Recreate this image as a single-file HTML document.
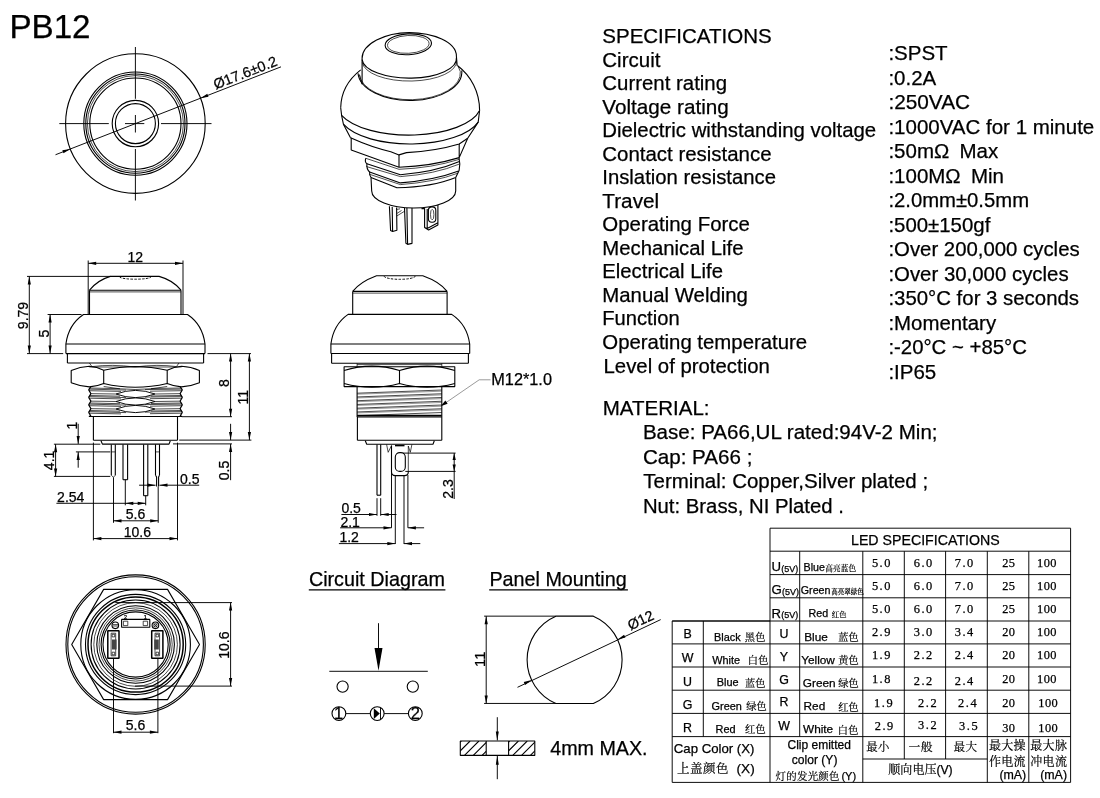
<!DOCTYPE html>
<html><head><meta charset="utf-8"><title>PB12</title><style>html,body{margin:0;padding:0;background:#fff}
svg{display:block}
text{font-family:"Liberation Sans",sans-serif;fill:#000;stroke:#000;stroke-width:.25px}
svg{will-change:transform}
path,circle,ellipse,rect{stroke-linejoin:bevel}
.o{fill:none;stroke:#000;stroke-width:1.1}
.t{fill:none;stroke:#000;stroke-width:.7}
.u{fill:none;stroke:#000;stroke-width:.4}
.k{fill:none;stroke:#000;stroke-width:1.5}
.d{fill:none;stroke:#000;stroke-width:.95}
.g{fill:none;stroke:#555;stroke-width:.6}
.h{fill:none;stroke:#000;stroke-width:1.1}
.b{fill:none;stroke:#000;stroke-width:.95}
.a{fill:#000;stroke:none}
.c{font-family:"Liberation Sans","Noto Serif CJK SC",serif;stroke-width:.18px}
.s{font-family:"Liberation Serif",serif}</style></head>
<body><svg width="1100" height="798" viewBox="0 0 1100 798">
<rect width="1100" height="798" fill="#fff"/>
<text x="9.4" y="38" font-size="33.2">PB12</text>
<circle class="o" cx="135.4" cy="123.6" r="69.8"/>
<circle class="o" cx="135.4" cy="123.6" r="51.6"/>
<circle class="o" cx="135.4" cy="123.6" r="49.6"/>
<circle class="t" cx="135.4" cy="123.6" r="48"/>
<circle class="o" cx="135.4" cy="123.6" r="45.6"/>
<circle class="o" cx="135.4" cy="123.6" r="23.2"/>
<circle class="o" cx="135.4" cy="123.6" r="20"/>
<path class="d" d="M59.3,123.6L108.8,123.6"/>
<path class="d" d="M125,123.6L144.3,123.6"/>
<path class="d" d="M161,123.6L211.5,123.6"/>
<path class="d" d="M135.4,47L135.4,98.8"/>
<path class="d" d="M135.4,115L135.4,132.5"/>
<path class="d" d="M135.4,149L135.4,200.5"/>
<path class="d" d="M55.5,154.75L281,66.83"/>
<path class="a" d="M200.43,98.25L207.3,93.85L208.47,96.83Z"/>
<path class="a" d="M70.37,148.95L63.5,153.35L62.33,150.37Z"/>
<text x="215.7" y="89.56" font-size="14.4" transform="rotate(-21.3 215.7 89.56)">Ø17.6±0.2</text>
<path class="d" d="M88.2,263.3L183,263.3"/>
<path class="a" d="M88.2,263.3L96.2,261.7L96.2,264.9Z"/>
<path class="a" d="M183,263.3L175,264.9L175,261.7Z"/>
<path class="d" d="M88.2,260.5L88.2,314"/>
<path class="d" d="M183,260.5L183,314"/>
<text x="135.3" y="262" font-size="14" text-anchor="middle">12</text>
<path class="o" d="M89.5,290.2Q97.5,280.2 110.3,276.4L159.1,276.4Q173,280.2 181,290.2"/>
<path class="o" d="M89.5,290.2L181,290.2"/>
<path class="t" d="M89.5,291.9L181,291.9"/>
<path class="o" d="M89.5,290.2L89.5,314.5"/>
<path class="o" d="M181,290.2L181,314.5"/>
<path class="d" d="M119.6,276.8A15.7,2.4 0 0 0 151,276.8" stroke-dasharray="2.4 1.4"/>
<path class="o" d="M65.9,344Q68.5,324.5 83.5,314.5L187.5,314.5Q202.5,324.5 205,344"/>
<path class="o" d="M65.9,344L205,344"/>
<path class="o" d="M65.9,344L65.9,353.6"/>
<path class="o" d="M205,344L205,353.6"/>
<path class="o" d="M65.9,353.6L205,353.6"/>
<path class="o" d="M67.4,353.6L67.4,363"/>
<path class="o" d="M203.6,353.6L203.6,363"/>
<path class="o" d="M67.4,363L203.6,363"/>
<path class="t" d="M89.4,363L92,366.6M178.9,363L176.5,366.6"/>
<path class="t" d="M92,366.6Q112,364 135,367Q158,364 176.5,366.6"/>
<path class="o" d="M71.2,370.5Q80,366.8 89.4,366.3Q97,366.8 103.7,370.3Q135,362.6 167.2,370.3Q174,366.8 181.5,366.3Q191,366.8 199.4,370.5L199.4,382.8Q191,386.4 181.5,386.9Q174,386.4 167.2,383.5Q135,391 103.7,383.5Q97,386.4 89.4,386.9Q80,386.4 71.2,382.8Z"/>
<path class="o" d="M103.7,370.3L103.7,383.5"/>
<path class="o" d="M167.2,370.3L167.2,383.5"/>
<path class="t" d="M89.4,367L181.5,367"/>
<path class="o" d="M90.7,386.9L88.7,389.9L90.9,393.6L88.7,397.4L90.9,401.1L88.7,404.9L90.9,408.6L88.7,412.4L90.9,416.1L88.9,416.2"/>
<path class="o" d="M180.2,386.9L182.3,389.9L180.1,393.6L182.3,397.4L180.1,401.1L182.3,404.9L180.1,408.6L182.3,412.4L180.1,416.1L182.1,416.2"/>
<path class="t" d="M88.7,389.1L126,390.1M88.9,390.7L121,391.4M89.6,388L120,388.7"/>
<path class="t" d="M182.3,389.1L145,389.6M182.1,390.7L150,391.2M181.4,388L151,388.5"/>
<path class="t" d="M90.9,393.65L116,394M180.1,393.65L155,394"/>
<path class="t" d="M88.7,396.6L126,397.6M88.9,398.2L121,398.9M89.6,395.5L120,396.2"/>
<path class="t" d="M182.3,396.6L145,397.1M182.1,398.2L150,398.7M181.4,395.5L151,396"/>
<path class="t" d="M90.9,401.15L116,401.5M180.1,401.15L155,401.5"/>
<path class="t" d="M88.7,404.1L126,405.1M88.9,405.7L121,406.4M89.6,403L120,403.7"/>
<path class="t" d="M182.3,404.1L145,404.6M182.1,405.7L150,406.2M181.4,403L151,403.5"/>
<path class="t" d="M90.9,408.65L116,409M180.1,408.65L155,409"/>
<path class="t" d="M88.7,411.6L126,412.6M88.9,413.2L121,413.9M89.6,410.5L120,411.2"/>
<path class="t" d="M182.3,411.6L145,412.1M182.1,413.2L150,413.7M181.4,410.5L151,411"/>
<path class="d" d="M116,394Q135.5,386.8 155,394M116,394Q135.5,401.2 155,394"/>
<path class="d" d="M116,401.5Q135.5,394.3 155,401.5M116,401.5Q135.5,408.7 155,401.5"/>
<path class="d" d="M116,409Q135.5,401.8 155,409M116,409Q135.5,416.2 155,409"/>
<path class="t" d="M103.7,386.5Q135,392.5 167.2,386.5"/>
<path class="o" d="M88.9,416.5L182.1,416.5"/>
<path class="o" d="M93.4,416.5L93.4,440.2"/>
<path class="o" d="M177.5,416.5L177.5,440.2"/>
<path class="o" d="M93.4,440.2L177.5,440.2"/>
<path class="o" d="M101,440.8L102.4,444.1L169,444.1L170.3,440.8"/>
<path class="o" d="M111.3,444.4L111.3,475.2"/>
<path class="o" d="M115.3,444.4L115.3,475.2"/>
<path class="o" d="M123,444.4L123,479.7"/>
<path class="o" d="M127.6,444.4L127.6,479.7"/>
<path class="o" d="M143.6,444.4L143.6,495.7"/>
<path class="o" d="M147.8,444.4L147.8,495.7"/>
<path class="o" d="M155.5,444.4L155.5,475.2"/>
<path class="o" d="M159.5,444.4L159.5,475.2"/>
<path class="t" d="M111.3,475.2L113.4,477.3L115.3,475.2"/>
<path class="o" d="M123,479.7L127.6,479.7"/>
<path class="o" d="M143.6,495.7L147.8,495.7"/>
<path class="t" d="M111.3,451.9L115.3,451.9"/>
<path class="t" d="M155.5,451.9L159.5,451.9"/>
<path class="o" d="M155.5,475.2L156.6,477L156.6,486.5M159.5,475.2L158.6,477L158.6,486.5"/>
<path class="d" d="M29.3,276.4L29.3,353.6"/>
<path class="a" d="M29.3,276.4L30.9,284.4L27.7,284.4Z"/>
<path class="a" d="M29.3,353.6L27.7,345.6L30.9,345.6Z"/>
<path class="d" d="M27,276.4L110.3,276.4"/>
<path class="d" d="M27,353.6L63.2,353.6"/>
<text x="28.2" y="315.5" font-size="14" text-anchor="middle" transform="rotate(-90 28.2 315.5)">9.79</text>
<path class="d" d="M50.1,314.5L50.1,353.6"/>
<path class="a" d="M50.1,314.5L51.7,322.5L48.5,322.5Z"/>
<path class="a" d="M50.1,353.6L48.5,345.6L51.7,345.6Z"/>
<path class="d" d="M47.6,314.5L81.5,314.5"/>
<text x="48.8" y="333.5" font-size="14" text-anchor="middle" transform="rotate(-90 48.8 333.5)">5</text>
<path class="d" d="M207.5,353.6L251,353.6"/>
<path class="d" d="M181.7,416.7L232,416.7"/>
<path class="d" d="M179.2,440.1L251.4,440.1"/>
<path class="d" d="M173,443.9L232,443.9"/>
<path class="d" d="M230.6,353.6L230.6,416.7"/>
<path class="a" d="M230.6,353.6L232.2,361.6L229,361.6Z"/>
<path class="a" d="M230.6,416.7L229,408.7L232.2,408.7Z"/>
<text x="229.3" y="383.2" font-size="14" text-anchor="middle" transform="rotate(-90 229.3 383.2)">8</text>
<path class="d" d="M249.4,353.6L249.4,440.1"/>
<path class="a" d="M249.4,353.6L251,361.6L247.8,361.6Z"/>
<path class="a" d="M249.4,440.1L247.8,432.1L251,432.1Z"/>
<text x="248" y="397.3" font-size="14" text-anchor="middle" transform="rotate(-90 248 397.3)">11</text>
<path class="d" d="M230.6,423.8L230.6,440.1"/>
<path class="a" d="M230.6,440.1L229,432.1L232.2,432.1Z"/>
<path class="d" d="M230.6,443.9L230.6,480.2"/>
<path class="a" d="M230.6,443.9L232.2,451.9L229,451.9Z"/>
<text x="229.3" y="470.5" font-size="14" text-anchor="middle" transform="rotate(-90 229.3 470.5)">0.5</text>
<path class="d" d="M78.2,423.8L78.2,443.9"/>
<path class="a" d="M78.2,443.9L76.6,435.9L79.8,435.9Z"/>
<text x="76.6" y="425.6" font-size="14" text-anchor="middle" transform="rotate(-90 76.6 425.6)">1</text>
<path class="d" d="M78.2,451.9L78.2,467.7"/>
<path class="a" d="M78.2,451.9L79.8,459.9L76.6,459.9Z"/>
<path class="d" d="M75.9,451.9L110.3,451.9"/>
<path class="d" d="M53.9,444.2L100.3,444.2"/>
<path class="d" d="M53.9,476.4L110.3,476.4"/>
<path class="d" d="M55.6,444.2L55.6,476.4"/>
<path class="a" d="M55.6,444.2L57.2,452.2L54,452.2Z"/>
<path class="a" d="M55.6,476.4L54,468.4L57.2,468.4Z"/>
<text x="54.4" y="460.4" font-size="14" text-anchor="middle" transform="rotate(-90 54.4 460.4)">4.1</text>
<path class="d" d="M93.4,442.6L93.4,540.4"/>
<path class="d" d="M177.5,442.6L177.5,540.4"/>
<path class="d" d="M113.5,477.3L113.5,522.8"/>
<path class="d" d="M158.2,486.5L158.2,522.8"/>
<path class="d" d="M125.3,479.7L125.3,505.3"/>
<path class="d" d="M145.7,495.7L145.7,505.3"/>
<path class="d" d="M93.4,538.6L177.5,538.6"/>
<path class="a" d="M93.4,538.6L101.4,537L101.4,540.2Z"/>
<path class="a" d="M177.5,538.6L169.5,540.2L169.5,537Z"/>
<text x="137.3" y="537.3" font-size="14" text-anchor="middle">10.6</text>
<path class="d" d="M113.5,520.8L158.2,520.8"/>
<path class="a" d="M113.5,520.8L121.5,519.2L121.5,522.4Z"/>
<path class="a" d="M158.2,520.8L150.2,522.4L150.2,519.2Z"/>
<text x="135.5" y="519" font-size="14" text-anchor="middle">5.6</text>
<path class="d" d="M56.4,503.3L145.7,503.3"/>
<path class="a" d="M125.3,503.3L133.3,501.7L133.3,504.9Z"/>
<path class="a" d="M145.7,503.3L137.7,504.9L137.7,501.7Z"/>
<text x="57.1" y="502.3" font-size="14">2.54</text>
<path class="d" d="M139.1,485.2L155.5,485.2"/>
<path class="a" d="M155.5,485.2L147.5,486.8L147.5,483.6Z"/>
<path class="d" d="M159.5,485.2L199.2,485.2"/>
<path class="a" d="M159.5,485.2L167.5,483.6L167.5,486.8Z"/>
<text x="180" y="484" font-size="14">0.5</text>
<ellipse class="o" cx="408.3" cy="44.3" rx="23.2" ry="10.4" transform="rotate(-3 408.3 44.3)"/>
<ellipse class="t" cx="408.3" cy="44.4" rx="20.8" ry="8.9" transform="rotate(-3 408.3 44.4)"/>
<path class="o" d="M362.1,84.2L362.1,58.3C362.1,44 385,32.6 409.2,32.6C433,32.6 456.4,42 456.4,56.2L457.2,66"/>
<path class="o" d="M362.1,59.6A47.2,19.5 0 0 0 456.4,57.6"/>
<path class="t" d="M362.3,62.3A47.2,19.8 0 0 0 456.6,60.2"/>
<path class="o" d="M358,73.3A51.9,28.6 0 0 0 461.8,70.5"/>
<path class="t" d="M359.4,74.6L362.1,84.2M359.4,74.6A50.4,26.6 0 0 0 460.3,71.5L458.2,66.5"/>
<path class="o" d="M340.7,107.8C341,92 349,79 360.7,69.9M479.6,110.5C479.6,92 471,76 457.7,65.8"/>
<path class="o" d="M340.7,107.8L341.6,115.3L343.4,124.2L350.5,137.8M479.6,110.5L478.2,122.1L467.7,138.3"/>
<path class="o" d="M341.6,115.3A72.24,31.06 0 0 0 479.6,110.5"/>
<path class="o" d="M343.4,124.2A71.15,30.6 0 0 0 478.2,122.1"/>
<path class="o" d="M350.5,137.8Q372,147.5 390.8,151.7L399,154.9L406.5,152.6Q436,151 459.2,144L467.7,138.3"/>
<path class="o" d="M351.2,137.8L351.2,150.1L399,167.2L399,154.9M399,167.2Q432,166 459.2,157.6L459.2,144M459.2,157.6L467.7,138.3"/>
<path class="o" d="M365.8,158.3Q364.5,162 366.9,163.8Q366.3,169 369.6,172Q369.3,175.5 371,177.4"/>
<path class="o" d="M459,157.6Q460.6,164 459.1,170.6L455.7,177.4"/>
<path class="o" d="M366.9,163.8L400.4,174.7Q435,172 459.4,161.5"/>
<path class="t" d="M366.3,166.5L400.4,176.6Q435,174.2 459.5,164"/>
<path class="o" d="M369.6,172L400.4,182.9Q435,180 458.6,171"/>
<path class="t" d="M369.3,174.2L400.4,184.6Q435,182 457.8,173.2"/>
<path class="t" d="M365.8,158.3L399,169.3Q432,168 459,159.4"/>
<path class="o" d="M371,177.4L396.9,187.7Q432,187 455.7,177.4"/>
<path class="o" d="M371,177.4L371.7,191A42,17 0 0 0 455.7,191L455.7,177.4"/>
<path class="o" d="M389.4,206.3L390.6,230.6L392.6,231.6L396.9,230.2L396.6,207.6M392.2,207L392.6,231.6"/>
<path class="o" d="M404.5,208L405.9,243.3L407.6,244.4L412,243.4L412,208M406.9,208L407.6,244.4"/>
<path class="t" d="M396.6,209.5L400,208.8M396.8,216L404.6,211.2M396.8,213.5L401.5,210.5"/>
<path class="o" d="M421.5,208.6L424.6,208.6L424.6,227.6L428.6,230L437.9,225L437.9,205M427.2,209L427.2,228.6L437.9,222.8M424.6,227.6L427.2,228.6"/>
<rect class="o" x="428.4" y="206.9" width="7.4" height="15.4" rx="3.5" ry="3.5"/>
<ellipse class="t" cx="432.2" cy="214.6" rx="1.7" ry="5.2"/>
<path class="o" d="M352.7,291.4Q360,282 376.5,275.8L422.8,275.8Q440,282 447.1,291.4"/>
<path class="o" d="M352.7,291.4L447.1,291.4"/>
<path class="t" d="M352.7,293.1L447.1,293.1"/>
<path class="o" d="M352.7,291.4L352.7,314.4"/>
<path class="o" d="M447.1,291.4L447.1,314.4"/>
<path class="d" d="M384,276.2A15.7,3.4 0 0 0 415.3,276.2" stroke-dasharray="2.4 1.4"/>
<path class="o" d="M330.9,344Q333.5,324.5 348.1,314.4L451.7,314.4Q467,324.5 469.7,344"/>
<path class="o" d="M330.9,344L469.7,344"/>
<path class="o" d="M330.9,344L330.9,353.5"/>
<path class="o" d="M469.7,344L469.7,353.5"/>
<path class="o" d="M330.9,353.5L469.7,353.5"/>
<path class="o" d="M331.6,353.5L331.6,363.3"/>
<path class="o" d="M468.4,353.5L468.4,363.3"/>
<path class="o" d="M331.6,363.3L468.4,363.3"/>
<path class="t" d="M357.1,363.3L357.1,366.7"/>
<path class="t" d="M441.8,363.3L441.8,366.7"/>
<path class="t" d="M357.1,364.6L441.8,364.6"/>
<path class="o" d="M344.1,366.7L454.8,366.7L454.8,386.6L344.1,386.6Z"/>
<path class="o" d="M344.1,370.5Q372,361.8 399.5,370.5Q427,361.8 454.8,370.5M344.1,383.5Q372,391 399.5,383.5Q427,391 454.8,383.5"/>
<path class="o" d="M399.5,370.5L399.5,383.5"/>
<path class="o" d="M357.1,386.6L357.1,416.9"/>
<path class="o" d="M441.8,386.6L441.8,416.9"/>
<path class="t" d="M357.1,393.2L441.8,390"/>
<path class="u" d="M357.1,394.2L441.8,391.2"/>
<path class="t" d="M357.1,396.95L441.8,393.75"/>
<path class="u" d="M357.1,397.95L441.8,394.95"/>
<path class="t" d="M357.1,400.7L441.8,397.5"/>
<path class="u" d="M357.1,401.7L441.8,398.7"/>
<path class="t" d="M357.1,404.45L441.8,401.25"/>
<path class="u" d="M357.1,405.45L441.8,402.45"/>
<path class="t" d="M357.1,408.2L441.8,405"/>
<path class="u" d="M357.1,409.2L441.8,406.2"/>
<path class="t" d="M357.1,411.95L441.8,408.75"/>
<path class="u" d="M357.1,412.95L441.8,409.95"/>
<path class="t" d="M357.1,415.7L441.8,412.5"/>
<path class="o" d="M357.1,415.4L441.8,415.4"/>
<path class="o" d="M357.1,416.9L441.8,416.9"/>
<path class="o" d="M357.4,416.9L357.4,440.2"/>
<path class="o" d="M441.8,416.9L441.8,440.2"/>
<path class="o" d="M357.4,440.2L441.8,440.2"/>
<path class="o" d="M365.3,440.8L366.7,444.3L433,444.3L434.3,440.8"/>
<path class="o" d="M377,444.4L377,495.2"/>
<path class="o" d="M380.7,444.4L380.7,495.2"/>
<path class="o" d="M377,495.2L380.7,495.2"/>
<path class="t" d="M386.6,444.5L388.2,452.3L391.5,445.5M411.9,444.5L410.3,452.3L408.3,446"/>
<path class="k" d="M395,445.6L404.5,445.6"/>
<path class="o" d="M391.5,445.5L391.5,472Q391.5,475.6 395.3,475.6L404.4,475.6Q408.3,475.6 408.3,472L408.3,471.4"/>
<rect class="o" x="395.3" y="452.6" width="10" height="18.8" rx="4.5" ry="4.5"/>
<path class="t" d="M408.3,446L408.3,472"/>
<path class="d" d="M391.5,472L391.5,527.8"/>
<path class="d" d="M407.9,475L407.9,527.8"/>
<path class="d" d="M395.3,475.6L395.3,544"/>
<path class="d" d="M404,475.6L404,544"/>
<path class="d" d="M403,453.1L455.6,453.1"/>
<path class="d" d="M405.3,471.4L455.6,471.4"/>
<path class="d" d="M454.2,453.1L454.2,499"/>
<path class="a" d="M454.2,453.1L455.8,460.1L452.6,460.1Z"/>
<path class="a" d="M454.2,471.4L452.6,464.4L455.8,464.4Z"/>
<text x="452.9" y="489" font-size="14" text-anchor="middle" transform="rotate(-90 452.9 489)">2.3</text>
<path class="d" d="M377,498.2L377,515.8"/>
<path class="d" d="M380.7,498.2L380.7,515.8"/>
<path class="d" d="M341.4,514.5L377,514.5"/>
<path class="a" d="M377,514.5L369,516.1L369,512.9Z"/>
<path class="d" d="M380.7,514.5L396.5,514.5"/>
<path class="a" d="M380.7,514.5L388.7,512.9L388.7,516.1Z"/>
<text x="341.4" y="512.8" font-size="14">0.5</text>
<path class="d" d="M340.1,527.8L391.5,527.8"/>
<path class="a" d="M391.5,527.8L383.5,529.4L383.5,526.2Z"/>
<path class="d" d="M407.9,527.8L424.1,527.8"/>
<path class="a" d="M407.9,527.8L415.9,526.2L415.9,529.4Z"/>
<text x="340.4" y="526.6" font-size="14">2.1</text>
<path class="d" d="M338.9,543.6L395.3,543.6"/>
<path class="a" d="M395.3,543.6L387.3,545.2L387.3,542Z"/>
<path class="d" d="M404,543.6L420.3,543.6"/>
<path class="a" d="M404,543.6L412,542L412,545.2Z"/>
<text x="339.4" y="542.1" font-size="14">1.2</text>
<path class="g" d="M490.5,379.8L479.2,379.8L441.2,405.9"/>
<path class="a" d="M440.6,406.3L445.35,400.53L447.65,403.81Z"/>
<text x="491.3" y="385.3" font-size="16.3">M12*1.0</text>
<circle class="o" cx="135.6" cy="644.5" r="69.6"/>
<circle class="o" cx="135.6" cy="644.5" r="67.8"/>
<circle class="o" cx="135.6" cy="644.5" r="54.8"/>
<circle class="o" cx="135.6" cy="644.5" r="50.1"/>
<circle class="k" cx="135.6" cy="644.5" r="47.6"/>
<circle class="o" cx="135.6" cy="644.5" r="44.5"/>
<circle class="t" cx="135.6" cy="644.5" r="41.8"/>
<circle class="o" cx="135.6" cy="644.5" r="38.8"/>
<circle class="t" cx="135.6" cy="644.5" r="36.6"/>
<circle class="o" cx="135.6" cy="644.5" r="34.5"/>
<circle class="o" cx="135.6" cy="644.5" r="32.6"/>
<path class="o" d="M71.7,644.5L103.65,589.4L167.55,589.4L199.5,644.5L167.55,699.6L103.65,699.6Z"/>
<rect class="k" x="107.8" y="630.8" width="11.2" height="27.4"/>
<rect class="t" x="111.1" y="633.2" width="4.6" height="22.6"/>
<rect class="t" x="112.1" y="634.3" width="2.6" height="2.6"/>
<rect class="t" x="112.1" y="652.2" width="2.6" height="2.6"/>
<rect class="k" x="151.7" y="630.8" width="11.2" height="27.4"/>
<rect class="t" x="155" y="633.2" width="4.6" height="22.6"/>
<rect class="t" x="156" y="634.3" width="2.6" height="2.6"/>
<rect class="t" x="156" y="652.2" width="2.6" height="2.6"/>
<rect x="112" y="639.5" width="4.6" height="10" fill="#444"/>
<rect x="154.2" y="639.5" width="4.6" height="10" fill="#444"/>
<rect class="o" x="121.6" y="619.4" width="28.2" height="7.8"/>
<rect class="t" x="123.4" y="621.2" width="4.4" height="4.4"/><rect class="t" x="143.2" y="621.2" width="4.4" height="4.4"/>
<text x="125.6" y="618.6" font-size="5.5" text-anchor="middle">2</text>
<text x="145.4" y="618.6" font-size="5.5" text-anchor="middle">1</text>
<circle class="o" cx="115.3" cy="625.3" r="3.3"/>
<circle class="o" cx="155.4" cy="625.3" r="3.3"/>
<circle class="t" cx="155.4" cy="625.3" r="1.7"/>
<path class="t" d="M112.6,624.6L118,624.6M112.6,626L118,626M153.4,623.3L157.4,627.3M157.4,623.3L153.4,627.3"/>
<path class="d" d="M115.3,602.6L232,602.6"/>
<path class="d" d="M135,686.1L232,686.1"/>
<path class="d" d="M230.6,602.6L230.6,686.1"/>
<path class="a" d="M230.6,602.6L232.2,610.6L229,610.6Z"/>
<path class="a" d="M230.6,686.1L229,678.1L232.2,678.1Z"/>
<text x="229.3" y="645.2" font-size="14" text-anchor="middle" transform="rotate(-90 229.3 645.2)">10.6</text>
<path class="d" d="M113.5,658.2L113.5,733.2"/>
<path class="d" d="M157.9,658.2L157.9,733.2"/>
<path class="d" d="M113.5,732.2L157.9,732.2"/>
<path class="a" d="M113.5,732.2L121.5,730.6L121.5,733.8Z"/>
<path class="a" d="M157.9,732.2L149.9,733.8L149.9,730.6Z"/>
<text x="135.5" y="730.4" font-size="14" text-anchor="middle">5.6</text>
<text x="308.9" y="586.2" font-size="19.75">Circuit Diagram</text>
<path class="h" d="M308.8,589.9L445.4,589.9"/>
<path class="d" d="M378.5,623.2L378.5,660"/>
<path class="a" d="M378.5,670.8L374.5,648L382.5,648Z"/>
<path class="d" d="M329.3,671.3L427.8,671.3"/>
<circle class="o" cx="342.6" cy="686.6" r="5.6"/>
<circle class="o" cx="412.8" cy="686.6" r="5.6"/>
<circle class="o" cx="338.9" cy="713.6" r="6.9"/>
<circle class="o" cx="377.2" cy="713.6" r="6.9"/>
<circle class="o" cx="415.3" cy="713.6" r="6.9"/>
<path class="d" d="M345.8,713.6L370.3,713.6"/>
<path class="d" d="M384.1,713.6L408.4,713.6"/>
<path class="a" d="M373.8,708.2L379.8,713.6L373.8,719Z"/>
<path class="d" d="M380.5,708L380.5,719.2"/>
<text x="338.7" y="719.4" font-size="16.5" text-anchor="middle">1</text>
<text x="415.3" y="719.4" font-size="16.5" text-anchor="middle">2</text>
<text x="489.4" y="586.2" font-size="19.75">Panel Mounting</text>
<path class="h" d="M489.2,589.9L627.9,589.9"/>
<path class="o" d="M555.87,616.15A47.5,47.5 0 0 0 555.87,703.45L593.33,703.45A47.5,47.5 0 0 0 593.33,616.15Z"/>
<path class="d" d="M484.1,616.15L555.87,616.15"/>
<path class="d" d="M484.1,703.45L555.87,703.45"/>
<path class="d" d="M486.2,616.15L486.2,703.45"/>
<path class="a" d="M486.2,616.15L487.8,624.15L484.6,624.15Z"/>
<path class="a" d="M486.2,703.45L484.6,695.45L487.8,695.45Z"/>
<text x="485.2" y="659.3" font-size="14.6" text-anchor="middle" transform="rotate(-90 485.2 659.3)">11</text>
<path class="d" d="M517.5,687.3L660.7,619.6"/>
<path class="a" d="M617.54,639.5L624.09,634.63L625.46,637.53Z"/>
<path class="a" d="M531.66,680.1L525.11,684.97L523.74,682.07Z"/>
<text x="630.4" y="630.4" font-size="14.4" transform="rotate(-25.30316239224151 630.4 630.4)">Ø12</text>
<clipPath id="h1"><rect x="460.3" y="741" width="25.9" height="14.4"/></clipPath><clipPath id="h2"><rect x="508.6" y="741" width="26.2" height="14.4"/></clipPath>
<path class="o" clip-path="url(#h1)" d="M446.9,755.4L461.3,741M455.7,755.4L470.1,741M464.5,755.4L478.9,741M473.3,755.4L487.7,741M482.1,755.4L496.5,741M490.9,755.4L505.3,741"/><path class="o" clip-path="url(#h2)" d="M495.2,755.4L509.6,741M504,755.4L518.4,741M512.8,755.4L527.2,741M521.6,755.4L536,741M530.4,755.4L544.8,741M539.2,755.4L553.6,741"/>
<rect class="o" x="460.3" y="741" width="74.5" height="14.4"/>
<path class="o" d="M486.2,741L486.2,755.4"/>
<path class="o" d="M508.6,741L508.6,755.4"/>
<path class="d" d="M497.3,717.2L497.3,740.4"/>
<path class="a" d="M497.3,740.6L495.8,731.6L498.8,731.6Z"/>
<path class="d" d="M497.3,756L497.3,779.2"/>
<path class="a" d="M497.3,755.8L498.8,764.8L495.8,764.8Z"/>
<text x="550.2" y="755.1" font-size="19.7">4mm MAX.</text>
<text x="602.3" y="43.1" font-size="20.5">SPECIFICATIONS</text>
<text x="602.3" y="66.6" font-size="20.5">Circuit</text>
<text x="602.3" y="90.1" font-size="20.42">Current rating</text>
<text x="602.3" y="113.6" font-size="20.7">Voltage rating</text>
<text x="602.3" y="137.1" font-size="20.36">Dielectric withstanding voltage</text>
<text x="602.3" y="160.6" font-size="20.44">Contact resistance</text>
<text x="602.3" y="184.1" font-size="20.3">Inslation resistance</text>
<text x="602.3" y="207.6" font-size="20.76">Travel</text>
<text x="602.3" y="231.1" font-size="20.43">Operating Force</text>
<text x="602.3" y="254.6" font-size="20.32">Mechanical Life</text>
<text x="602.3" y="278.1" font-size="20.29">Electrical Life</text>
<text x="602.3" y="301.6" font-size="20.36">Manual Welding</text>
<text x="602.3" y="325.1" font-size="20.17">Function</text>
<text x="602.3" y="348.6" font-size="20.37">Operating temperature</text>
<text x="603.55" y="372.5" font-size="20.35">Level of protection</text>
<text x="888.4" y="60.1" font-size="20.5">:SPST</text>
<text x="888.4" y="84.6" font-size="20.5">:0.2A</text>
<text x="888.4" y="109.1" font-size="20.8">:250VAC</text>
<text x="888.4" y="133.6" font-size="20.5">:1000VAC for 1 minute</text>
<text x="888.4" y="158.1" font-size="20.5">:50mΩ<tspan dx="10.2">Max</tspan></text>
<text x="888.4" y="182.6" font-size="20.5">:100MΩ<tspan dx="10.2">Min</tspan></text>
<text x="888.4" y="207.1" font-size="20.28">:2.0mm±0.5mm</text>
<text x="888.4" y="231.6" font-size="20.4">:500±150gf</text>
<text x="888.4" y="256.1" font-size="20.38">:Over 200,000 cycles</text>
<text x="888.4" y="280.6" font-size="20.4">:Over 30,000 cycles</text>
<text x="888.4" y="305.1" font-size="20.4">:350°C for 3 seconds</text>
<text x="888.4" y="329.6" font-size="20.42">:Momentary</text>
<text x="888.4" y="354.1" font-size="20.38">:-20°C ~ +85°C</text>
<text x="888.4" y="378.6" font-size="20.5">:IP65</text>
<text x="602.8" y="414.8" font-size="20.5">MATERIAL:</text>
<text x="642.9" y="439.3" font-size="20.55">Base: PA66,UL rated:94V-2 Min;</text>
<text x="642.9" y="463.8" font-size="20.6">Cap: PA66 ;</text>
<text x="643.3" y="488.3" font-size="20.5">Terminal: Copper,Silver plated ;</text>
<text x="642.9" y="512.8" font-size="20.32">Nut: Brass, NI Plated .</text>
<path class="b" d="M770,528.2L1070.6,528.2L1070.6,782.4L672.2,782.4L672.2,621L770,621Z"/>
<path class="b" d="M770,551.2L1070.6,551.2"/>
<path class="b" d="M770,574.6L1070.6,574.6"/>
<path class="b" d="M770,597.8L1070.6,597.8"/>
<path class="b" d="M672.2,621L1070.6,621"/>
<path class="b" d="M672.2,643.9L1070.6,643.9"/>
<path class="b" d="M672.2,667L1070.6,667"/>
<path class="b" d="M672.2,690.2L1070.6,690.2"/>
<path class="b" d="M672.2,713.4L1070.6,713.4"/>
<path class="b" d="M672.2,736.6L1070.6,736.6"/>
<path class="b" d="M862.8,759L987.3,759"/>
<path class="b" d="M703.3,621L703.3,736.6"/>
<path class="b" d="M770,621L770,782.4"/>
<path class="b" d="M799.7,551.2L799.7,736.6"/>
<path class="b" d="M862.8,551.2L862.8,782.4"/>
<path class="b" d="M904.3,551.2L904.3,759"/>
<path class="b" d="M945.6,551.2L945.6,759"/>
<path class="b" d="M987.3,551.2L987.3,782.4"/>
<path class="b" d="M1028.8,551.2L1028.8,782.4"/>
<text x="851" y="545.2" font-size="14.2">LED SPECIFICATIONS</text>
<text x="881.9" y="566.5" font-size="12.4" text-anchor="middle" class="s" letter-spacing="1.5">5.0</text>
<text x="923.7" y="566.5" font-size="12.4" text-anchor="middle" class="s" letter-spacing="1.5">6.0</text>
<text x="964.7" y="566.5" font-size="12.4" text-anchor="middle" class="s" letter-spacing="1.5">7.0</text>
<text x="1008.8" y="566.5" font-size="12.4" text-anchor="middle" class="s" letter-spacing="0.4">25</text>
<text x="1047" y="566.5" font-size="12.4" text-anchor="middle" class="s" letter-spacing="0.4">100</text>
<text x="881.9" y="589.6" font-size="12.4" text-anchor="middle" class="s" letter-spacing="1.5">5.0</text>
<text x="923.7" y="589.6" font-size="12.4" text-anchor="middle" class="s" letter-spacing="1.5">6.0</text>
<text x="964.7" y="589.6" font-size="12.4" text-anchor="middle" class="s" letter-spacing="1.5">7.0</text>
<text x="1008.8" y="589.6" font-size="12.4" text-anchor="middle" class="s" letter-spacing="0.4">25</text>
<text x="1047" y="589.6" font-size="12.4" text-anchor="middle" class="s" letter-spacing="0.4">100</text>
<text x="881.9" y="612.8" font-size="12.4" text-anchor="middle" class="s" letter-spacing="1.5">5.0</text>
<text x="923.7" y="612.8" font-size="12.4" text-anchor="middle" class="s" letter-spacing="1.5">6.0</text>
<text x="964.7" y="612.8" font-size="12.4" text-anchor="middle" class="s" letter-spacing="1.5">7.0</text>
<text x="1008.8" y="612.8" font-size="12.4" text-anchor="middle" class="s" letter-spacing="0.4">25</text>
<text x="1047" y="612.8" font-size="12.4" text-anchor="middle" class="s" letter-spacing="0.4">100</text>
<text x="881.9" y="636.2" font-size="12.4" text-anchor="middle" class="s" letter-spacing="1.5">2.9</text>
<text x="923.7" y="636.2" font-size="12.4" text-anchor="middle" class="s" letter-spacing="1.5">3.0</text>
<text x="964.7" y="636.2" font-size="12.4" text-anchor="middle" class="s" letter-spacing="1.5">3.4</text>
<text x="1008.8" y="636.2" font-size="12.4" text-anchor="middle" class="s" letter-spacing="0.4">20</text>
<text x="1047" y="636.2" font-size="12.4" text-anchor="middle" class="s" letter-spacing="0.4">100</text>
<text x="881.9" y="659.4" font-size="12.4" text-anchor="middle" class="s" letter-spacing="1.5">1.9</text>
<text x="923.7" y="659.4" font-size="12.4" text-anchor="middle" class="s" letter-spacing="1.5">2.2</text>
<text x="964.7" y="659.4" font-size="12.4" text-anchor="middle" class="s" letter-spacing="1.5">2.4</text>
<text x="1008.8" y="659.4" font-size="12.4" text-anchor="middle" class="s" letter-spacing="0.4">20</text>
<text x="1047" y="659.4" font-size="12.4" text-anchor="middle" class="s" letter-spacing="0.4">100</text>
<text x="881.9" y="683" font-size="12.4" text-anchor="middle" class="s" letter-spacing="1.5">1.8</text>
<text x="923.7" y="684.6" font-size="12.4" text-anchor="middle" class="s" letter-spacing="1.5">2.2</text>
<text x="964.7" y="684.6" font-size="12.4" text-anchor="middle" class="s" letter-spacing="1.5">2.4</text>
<text x="1008.8" y="683" font-size="12.4" text-anchor="middle" class="s" letter-spacing="0.4">20</text>
<text x="1047" y="683" font-size="12.4" text-anchor="middle" class="s" letter-spacing="0.4">100</text>
<text x="884.1" y="706.8" font-size="12.4" text-anchor="middle" class="s" letter-spacing="1.5">1.9</text>
<text x="928.1" y="706.8" font-size="12.4" text-anchor="middle" class="s" letter-spacing="1.5">2.2</text>
<text x="968.1" y="706.8" font-size="12.4" text-anchor="middle" class="s" letter-spacing="1.5">2.4</text>
<text x="1008.8" y="706.8" font-size="12.4" text-anchor="middle" class="s" letter-spacing="0.4">20</text>
<text x="1048.2" y="706.8" font-size="12.4" text-anchor="middle" class="s" letter-spacing="0.4">100</text>
<text x="884.7" y="729.6" font-size="12.4" text-anchor="middle" class="s" letter-spacing="1.5">2.9</text>
<text x="928.1" y="729" font-size="12.4" text-anchor="middle" class="s" letter-spacing="1.5">3.2</text>
<text x="969.1" y="729.6" font-size="12.4" text-anchor="middle" class="s" letter-spacing="1.5">3.5</text>
<text x="1008.8" y="731.8" font-size="12.4" text-anchor="middle" class="s" letter-spacing="0.4">30</text>
<text x="1048.2" y="731.8" font-size="12.4" text-anchor="middle" class="s" letter-spacing="0.4">100</text>
<text x="771.6" y="571.2" font-size="13.2">U</text>
<text x="781.2" y="571.6" font-size="9">(5V)</text>
<text x="771.6" y="594.4" font-size="13.2">G</text>
<text x="781.9" y="594.8" font-size="9">(5V)</text>
<text x="771.6" y="617.6" font-size="13.2">R</text>
<text x="781.2" y="618" font-size="9">(5V)</text>
<text x="803.6" y="570.6" font-size="10.7">Blue</text>
<text class="c" x="825.2" y="570.8" font-size="7.6" letter-spacing="0.2">高亮蓝色</text>
<text x="800.8" y="593.6" font-size="10.7">Green</text>
<text class="c" x="831.2" y="594" font-size="6.5">高亮翠绿色</text>
<text x="808.6" y="616.8" font-size="10.7">Red</text>
<text class="c" x="831.8" y="617.2" font-size="7.4">红色</text>
<text x="687.6" y="638.4" font-size="12.4" text-anchor="middle">B</text>
<text x="714" y="640.6" font-size="10.9">Black</text>
<text class="c" x="744.8" y="640.9" font-size="10.2" letter-spacing="0.2">黑色</text>
<text x="687.6" y="662" font-size="12.4" text-anchor="middle">W</text>
<text x="712.2" y="663.6" font-size="10.9">White</text>
<text class="c" x="747.8" y="663.9" font-size="10.2" letter-spacing="0.2">白色</text>
<text x="687.6" y="685.6" font-size="12.4" text-anchor="middle">U</text>
<text x="716.8" y="686.4" font-size="10.9">Blue</text>
<text class="c" x="744.9" y="686.7" font-size="10.2" letter-spacing="0.2">蓝色</text>
<text x="687.6" y="708.8" font-size="12.4" text-anchor="middle">G</text>
<text x="711.6" y="709.8" font-size="10.9">Green</text>
<text class="c" x="746.2" y="710.1" font-size="10.2" letter-spacing="0.2">绿色</text>
<text x="687.6" y="732.4" font-size="12.4" text-anchor="middle">R</text>
<text x="715.6" y="733" font-size="10.9">Red</text>
<text class="c" x="745" y="733.3" font-size="10.2" letter-spacing="0.2">红色</text>
<text x="784" y="638.4" font-size="12.4" text-anchor="middle">U</text>
<text x="804.2" y="640.8" font-size="11.8">Blue</text>
<text class="c" x="838.2" y="641.1" font-size="10.2" letter-spacing="0.2">蓝色</text>
<text x="784" y="661.2" font-size="12.4" text-anchor="middle">Y</text>
<text x="801.2" y="664" font-size="11.8">Yellow</text>
<text class="c" x="838.2" y="664.3" font-size="10.2" letter-spacing="0.2">黄色</text>
<text x="784" y="684" font-size="12.4" text-anchor="middle">G</text>
<text x="802.8" y="687" font-size="11.8">Green</text>
<text class="c" x="838.2" y="687.3" font-size="10.2" letter-spacing="0.2">绿色</text>
<text x="784" y="706.4" font-size="12.4" text-anchor="middle">R</text>
<text x="803.6" y="710.2" font-size="11.8">Red</text>
<text class="c" x="838.2" y="710.5" font-size="10.2" letter-spacing="0.2">红色</text>
<text x="784" y="729.6" font-size="12.4" text-anchor="middle">W</text>
<text x="803" y="733.2" font-size="11.8">White</text>
<text class="c" x="837.8" y="733.5" font-size="10.2" letter-spacing="0.2">白色</text>
<text x="673.8" y="753.4" font-size="13.2">Cap Color (X)</text>
<text class="c" x="677" y="772.6" font-size="12.5" letter-spacing="0.5">上盖颜色</text>
<text x="736.6" y="772.6" font-size="13.6">(X)</text>
<text x="819.2" y="748.8" font-size="12" text-anchor="middle">Clip emitted</text>
<text x="814.6" y="763.6" font-size="12.1" text-anchor="middle">color (Y)</text>
<text class="c" x="775.6" y="779.6" font-size="10.4" letter-spacing="0.3">灯的发光颜色</text>
<text x="841.4" y="779.8" font-size="11">(Y)</text>
<text class="c" x="866.2" y="750.6" font-size="11.4" letter-spacing="0.3">最小</text>
<text class="c" x="908.6" y="750.6" font-size="11.8" letter-spacing="0.4">一般</text>
<text class="c" x="953.4" y="750.6" font-size="11.6" letter-spacing="0.4">最大</text>
<text class="c" x="888.2" y="774" font-size="12" letter-spacing="0.1">顺向电压</text>
<text x="936.4" y="773.8" font-size="12.2">(V)</text>
<text class="c" x="989" y="749.8" font-size="12" letter-spacing="0.3">最大操</text>
<text class="c" x="989" y="766" font-size="12" letter-spacing="0.3">作电流</text>
<text x="1012.8" y="779.4" font-size="12.4" text-anchor="middle">(mA)</text>
<text class="c" x="1030.3" y="749.8" font-size="12" letter-spacing="0.3">最大脉</text>
<text class="c" x="1030.3" y="766" font-size="12" letter-spacing="0.3">冲电流</text>
<text x="1053.6" y="779.4" font-size="12.4" text-anchor="middle">(mA)</text>
</svg></body></html>
